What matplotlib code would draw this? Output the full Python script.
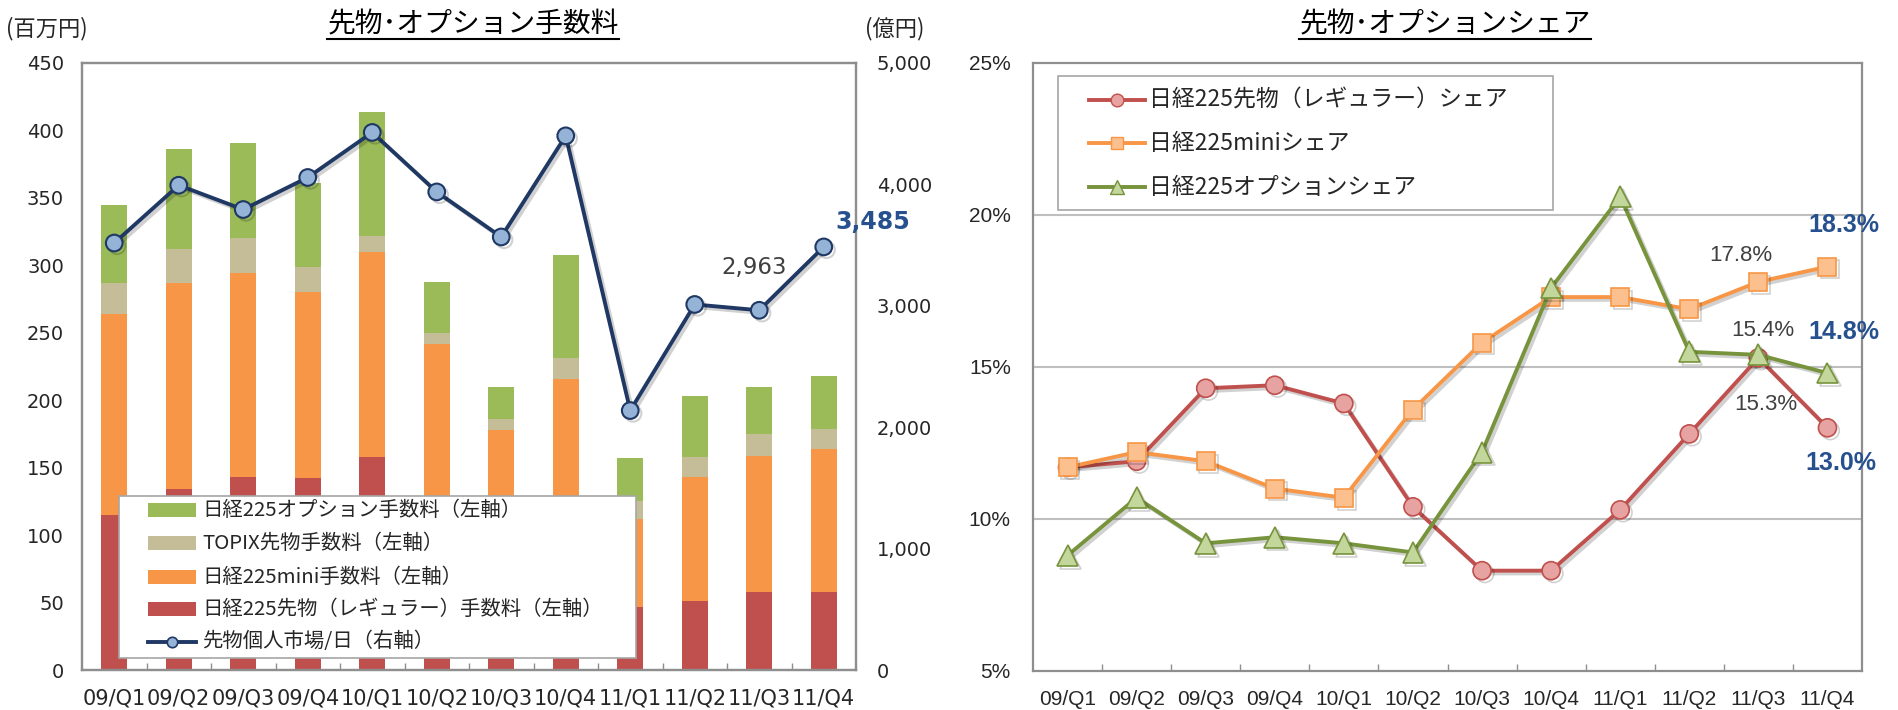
import matplotlib
matplotlib.use('Agg')
import matplotlib.pyplot as plt
import matplotlib.patheffects as pe
import numpy as np
from matplotlib.patches import Rectangle
from matplotlib.lines import Line2D

plt.rcParams['font.family'] = ['Noto Sans CJK JP', 'DejaVu Sans']

# ---------------- data ----------------
quarters = ['09/Q1', '09/Q2', '09/Q3', '09/Q4', '10/Q1', '10/Q2',
            '10/Q3', '10/Q4', '11/Q1', '11/Q2', '11/Q3', '11/Q4']

# fees (百万円), stacked segments
fee_regular = [115, 134, 143, 142, 158, 105, 70, 85, 47, 51, 58, 58]
fee_mini    = [149, 153, 151, 138, 152, 137, 108, 131, 65, 92, 101, 106]
fee_topix   = [23, 25, 26, 19, 12, 8, 8, 15, 13, 15, 16, 15]
fee_option  = [58, 74, 71, 62, 92, 38, 24, 77, 32, 45, 35, 39]

# 先物個人市場/日 (億円)
indiv_per_day = [3517, 3993, 3793, 4057, 4428, 3938, 3567, 4400, 2137, 3011, 2963, 3485]

# shares (%)
share_regular = [11.7, 11.9, 14.3, 14.4, 13.8, 10.4, 8.3, 8.3, 10.3, 12.8, 15.3, 13.0]
share_mini    = [11.7, 12.2, 11.9, 11.0, 10.7, 13.6, 15.8, 17.3, 17.3, 16.9, 17.8, 18.3]
share_option  = [8.8, 10.7, 9.2, 9.4, 9.2, 8.9, 12.2, 17.6, 20.6, 15.5, 15.4, 14.8]

fee_labels = ['日経225先物（レギュラー）手数料（左軸）', '日経225mini手数料（左軸）',
              'TOPIX先物手数料（左軸）', '日経225オプション手数料（左軸）']
line_label = '先物個人市場/日（右軸）'
share_labels = ['日経225先物（レギュラー）シェア', '日経225miniシェア', '日経225オプションシェア']

# ---------------- styling ----------------
W, H = 1898, 710
fig = plt.figure(figsize=(W / 100, H / 100), dpi=100)


def fx(px):
    return px / W


def fy(py):
    return 1 - py / H


FRAME = '#8E8E8E'
TXT = '#262626'
BLUE_TXT = '#27508F'
GRAY_TXT = '#404040'
LEG_EDGE = '#A6A6A6'

c_red, c_orange, c_tan, c_green = '#C0504D', '#F79646', '#C4BD97', '#9BBB59'
navy = '#1F3864'
shadow = [pe.SimpleLineShadow(offset=(2, -2), alpha=0.18, shadow_color='black'), pe.Normal()]

# ---------------- left chart ----------------
ax1 = fig.add_axes([fx(82), fy(670), fx(856) - fx(82), fy(63) - fy(670)])
x = np.arange(len(quarters))
bw = 0.4
bottom = np.zeros(len(quarters))
fee_series = [fee_regular, fee_mini, fee_topix, fee_option]
fee_colors = [c_red, c_orange, c_tan, c_green]
for vals, col, lab in zip(fee_series, fee_colors, fee_labels):
    ax1.bar(x, vals, bw, bottom=bottom, color=col, linewidth=0, label=lab, zorder=2)
    bottom = bottom + np.array(vals)

ax1.set_xlim(-0.5, len(quarters) - 0.5)
ax1.set_ylim(0, 450)
ax1.set_yticks(range(0, 451, 50))
ax1.set_yticklabels([str(v) for v in range(0, 451, 50)])
ax1.set_xticks(x)
ax1.set_xticklabels(quarters)
ax1.set_xticks(np.arange(0.5, len(quarters) - 0.5, 1), minor=True)
ax1.tick_params(axis='x', which='major', length=0, pad=13, labelsize=15, colors=TXT)
ax1.tick_params(axis='x', which='minor', length=5, width=1, direction='in', color=FRAME)
ax1.tick_params(axis='y', length=0, pad=13, labelsize=14, colors=TXT)
for lab in ax1.get_xticklabels() + ax1.get_yticklabels():
    lab.set_fontfamily('DejaVu Sans')
for sp in ax1.spines.values():
    sp.set_color(FRAME)
    sp.set_linewidth(1.6)

ax2 = ax1.twinx()
ax2.set_ylim(0, 5000)
ax2.set_yticks(range(0, 5001, 1000))
ax2.set_yticklabels([f'{v:,}' for v in range(0, 5001, 1000)])
ax2.tick_params(axis='y', length=0, pad=15, labelsize=14, colors=TXT)
for lab in ax2.get_yticklabels():
    lab.set_fontfamily('DejaVu Sans')
for sp in ax2.spines.values():
    sp.set_color(FRAME)
    sp.set_linewidth(1.6)
ax2.plot(x, indiv_per_day, color=navy, lw=2.8, marker='o', ms=12,
         mfc='#95B3D7', mec=navy, mew=1.5, zorder=3, path_effects=shadow)

ax2.annotate(f'{indiv_per_day[10]:,}', xy=(x[10], indiv_per_day[10]), xytext=(-5, 43),
             textcoords='offset pixels', ha='center', va='center', fontsize=16.5,
             color=GRAY_TXT, family='DejaVu Sans')
ax2.annotate(f'{indiv_per_day[11]:,}', xy=(x[11], indiv_per_day[11]), xytext=(49, 25),
             textcoords='offset pixels', ha='center', va='center', fontsize=17,
             color=BLUE_TXT, family='DejaVu Sans', fontweight='bold', annotation_clip=False)

# left legend (drawn on the figure, above the bars)
fig.add_artist(Rectangle((fx(119), fy(658)), fx(636) - fx(119), fy(496) - fy(658),
                         transform=fig.transFigure, facecolor='white',
                         edgecolor=LEG_EDGE, lw=1.2, zorder=10))
leg1_rows = [510, 543, 577, 609, 642]
leg1_items = [(c_green, fee_labels[3]), (c_tan, fee_labels[2]),
              (c_orange, fee_labels[1]), (c_red, fee_labels[0])]
for ry, (col, lab) in zip(leg1_rows[:4], leg1_items):
    fig.add_artist(Rectangle((fx(148), fy(ry + 7)), fx(196) - fx(148), 14 / H,
                             transform=fig.transFigure, facecolor=col, lw=0, zorder=11))
    fig.text(fx(202), fy(ry), lab, ha='left', va='center', fontsize=14.7, color=TXT, zorder=12)
ry = leg1_rows[4]
fig.add_artist(Line2D([fx(148), fx(196)], [fy(ry), fy(ry)], transform=fig.transFigure,
                      color=navy, lw=2.8, zorder=11))
fig.add_artist(Line2D([fx(172)], [fy(ry)], transform=fig.transFigure, color=navy,
                      marker='o', ms=7.5, mfc='#95B3D7', mec=navy, mew=1.2, zorder=12))
fig.text(fx(202), fy(ry), line_label, ha='left', va='center', fontsize=14.7, color=TXT, zorder=12)

# ---------------- right chart ----------------
ax3 = fig.add_axes([fx(1033), fy(671), fx(1862) - fx(1033), fy(63) - fy(671)])
ax3.set_xlim(-0.5, len(quarters) - 0.5)
ax3.set_ylim(5, 25)
ax3.set_yticks([5, 10, 15, 20, 25])
ax3.set_yticklabels([f'{v}%' for v in [5, 10, 15, 20, 25]])
ax3.set_xticks(x)
ax3.set_xticklabels(quarters)
ax3.set_xticks(np.arange(0.5, len(quarters) - 0.5, 1), minor=True)
ax3.tick_params(axis='x', which='major', length=0, pad=14, labelsize=15, colors=TXT)
ax3.tick_params(axis='x', which='minor', length=5, width=1, direction='in', color=FRAME)
ax3.tick_params(axis='y', length=0, pad=16, labelsize=15, colors=TXT)
for lab in ax3.get_xticklabels() + ax3.get_yticklabels():
    lab.set_fontfamily(['Liberation Sans', 'DejaVu Sans'])
for sp in ax3.spines.values():
    sp.set_color(FRAME)
    sp.set_linewidth(1.6)
for gy in [10, 15, 20]:
    ax3.axhline(gy, color='#BFBFBF', lw=1.5, zorder=1)

share_series = [
    (share_regular, c_red, 'o', 13, '#E6A3A1', c_red),
    (share_mini, c_orange, 's', 13, '#FBC08E', c_orange),
    (share_option, '#77933C', '^', 15, '#C3D69B', '#77933C'),
]
for z, ((vals, col, mk, ms, mfc, mec), lab) in enumerate(zip(share_series, share_labels)):
    ax3.plot(x, vals, color=col, lw=2.8, marker=mk, ms=ms, mfc=mfc, mec=mec, mew=1.2,
             label=lab, zorder=3 + z, path_effects=shadow)

ann = dict(textcoords='offset pixels', ha='center', va='center', annotation_clip=False)
fam = ['Liberation Sans', 'DejaVu Sans']
ax3.annotate(f'{share_mini[10]:.1f}%', xy=(x[10], share_mini[10]), xytext=(-18, 26),
             fontsize=16, color=GRAY_TXT, family=fam, **ann)
ax3.annotate(f'{share_option[10]:.1f}%', xy=(x[10], share_option[10]), xytext=(4, 24),
             fontsize=16, color=GRAY_TXT, family=fam, **ann)
ax3.annotate(f'{share_regular[10]:.1f}%', xy=(x[10], share_regular[10]), xytext=(7, -47),
             fontsize=16, color=GRAY_TXT, family=fam, **ann)
ax3.annotate(f'{share_mini[11]:.1f}%', xy=(x[11], share_mini[11]), xytext=(16, 42),
             fontsize=18, color=BLUE_TXT, fontweight='bold', family=fam, **ann)
ax3.annotate(f'{share_option[11]:.1f}%', xy=(x[11], share_option[11]), xytext=(16, 41),
             fontsize=18, color=BLUE_TXT, fontweight='bold', family=fam, **ann)
ax3.annotate(f'{share_regular[11]:.1f}%', xy=(x[11], share_regular[11]), xytext=(13, -35),
             fontsize=18, color=BLUE_TXT, fontweight='bold', family=fam, **ann)

# right legend
fig.add_artist(Rectangle((fx(1058), fy(210)), fx(1553) - fx(1058), fy(76) - fy(210),
                         transform=fig.transFigure, facecolor='white',
                         edgecolor=LEG_EDGE, lw=1.2, zorder=10))
leg3_rows = [100, 143, 187]
for ry, (vals, col, mk, ms, mfc, mec), lab in zip(leg3_rows, share_series, share_labels):
    fig.add_artist(Line2D([fx(1089), fx(1145)], [fy(ry), fy(ry)], transform=fig.transFigure,
                          color=col, lw=2.8, zorder=11))
    fig.add_artist(Line2D([fx(1117)], [fy(ry)], transform=fig.transFigure, color=col,
                          marker=mk, ms=ms * 0.7, mfc=mfc, mec=mec, mew=1.0, zorder=12))
    fig.text(fx(1149), fy(ry), lab, ha='left', va='center', fontsize=16.5, color=TXT, zorder=12)

# ---------------- titles and units ----------------
t1 = fig.text(fx(473), fy(24), '先物･オプション手数料', ha='center', va='center',
              fontsize=20, color='black')
t2 = fig.text(fx(1445), fy(24), '先物･オプションシェア', ha='center', va='center',
              fontsize=20, color='black')
fig.text(fx(6), fy(29), '(百万円)', ha='left', va='center', fontsize=16, color=TXT)
fig.text(fx(895), fy(29), '(億円)', ha='center', va='center', fontsize=16, color=TXT)

fig.canvas.draw()
r = fig.canvas.get_renderer()
for t in (t1, t2):
    bb = t.get_window_extent(renderer=r)
    fig.add_artist(Line2D([bb.x0 / W, bb.x1 / W], [fy(39), fy(39)],
                          transform=fig.transFigure, color='black', lw=1.5))

fig.savefig('out.png', dpi=100)
